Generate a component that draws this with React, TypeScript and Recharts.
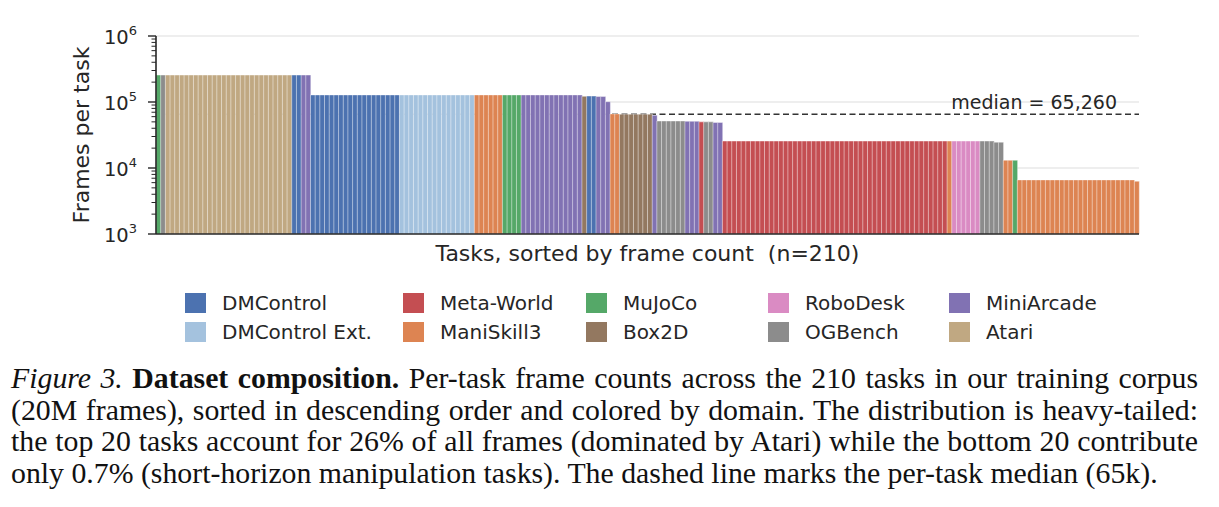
import { BarChart, Bar, Cell, XAxis, YAxis, ReferenceLine } from 'recharts'

// domains, in legend order (column-major, two rows)
const domains = [
  'DMControl', 'DMControl Ext.', 'Meta-World', 'ManiSkill3', 'MuJoCo',
  'Box2D', 'RoboDesk', 'OGBench', 'MiniArcade', 'Atari',
]
const domainColors = [
  '#4c72b0', '#a4c2de', '#c44e52', '#dd8452', '#55a868',
  '#937860', '#da8bc3', '#8c8c8c', '#8172b3', '#c0a882',
]

// tasks sorted by frame count, stored as runs of neighbouring tasks
// that share a domain and a frame count
const runDomains = [
  'MuJoCo', 'OGBench', 'Atari', 'DMControl', 'MiniArcade',
  'DMControl', 'DMControl Ext.', 'ManiSkill3', 'MuJoCo', 'MiniArcade',
  'Box2D', 'DMControl', 'MiniArcade', 'MiniArcade', 'ManiSkill3',
  'Box2D', 'MiniArcade', 'OGBench', 'MiniArcade', 'Meta-World',
  'OGBench', 'MiniArcade', 'Meta-World', 'ManiSkill3', 'RoboDesk',
  'OGBench', 'OGBench', 'ManiSkill3', 'MuJoCo', 'ManiSkill3', 'ManiSkill3',
]
const runCounts = [
  1, 1, 27, 2, 2,
  19, 16, 6, 4, 13,
  1, 2, 2, 1, 2,
  7, 1, 6, 3, 1,
  2, 2, 48, 1, 6,
  3, 2, 2, 1, 25, 1,
]
const runFrames = [
  256000, 256000, 256000, 256000, 256000,
  128000, 128000, 128000, 128000, 128000,
  122000, 123000, 121000, 101000, 66000,
  65260, 63000, 51500, 51000, 50000,
  50000, 49000, 25600, 25600, 25600,
  25600, 24600, 13100, 13100, 6600, 6300,
]

const MEDIAN = 65260
const majorTicks = [1e3, 1e4, 1e5, 1e6]
const minorTicks = [2, 3, 4, 5, 6, 7, 8, 9].flatMap((m) => [m * 1e3, m * 1e4, m * 1e5])
const gridValues = [1e4, 1e5, 1e6]

const tasks = runDomains.flatMap((d, i) =>
  Array.from({ length: runCounts[i] }, () => ({ domain: d, frames: runFrames[i] })),
).map((t, i) => ({ ...t, idx: i + 1 }))

const INK = '#262626'
const SANS = '"DejaVu Sans", sans-serif'

function LogTick(props: any) {
  const { x, y, payload } = props
  const exp = Math.log10(payload.value)
  const major = Math.abs(exp - Math.round(exp)) < 1e-9
  if (!major) {
    return <line x1={x - 4.5} x2={x} y1={y} y2={y} stroke={INK} strokeWidth={1} />
  }
  return (
    <g>
      <line x1={x - 8} x2={x} y1={y} y2={y} stroke={INK} strokeWidth={1.4} />
      <text x={x - 19} y={y + 8} textAnchor="end" fontSize={19.5} fill={INK} fontFamily={SANS}>
        <tspan>10</tspan>
        <tspan dy={-9} fontSize={13}>{Math.round(exp)}</tspan>
      </text>
    </g>
  )
}

function YTitle(props: any) {
  const { viewBox } = props
  const cx = 81
  const cy = viewBox.y + viewBox.height / 2
  return (
    <text x={cx} y={cy} transform={`rotate(-90 ${cx} ${cy})`} textAnchor="middle"
      dominantBaseline="central" fontSize={22} fill={INK} fontFamily={SANS}>
      Frames per task
    </text>
  )
}

function XTitle(props: any) {
  const { viewBox } = props
  return (
    <text x={viewBox.x + viewBox.width / 2} y={viewBox.y + 19} textAnchor="middle"
      dominantBaseline="central" fontSize={22} fill={INK} fontFamily={SANS}
      style={{ whiteSpace: 'pre' }}>
      {'Tasks, sorted by frame count  (n=210)'}
    </text>
  )
}

function MedianLabel(props: any) {
  const { viewBox } = props
  return (
    <text x={viewBox.x + viewBox.width - 22} y={viewBox.y - 12} textAnchor="end"
      dominantBaseline="central" fontSize={19} fill={INK} fontFamily={SANS}>
      {`median = ${MEDIAN.toLocaleString('en-US')}`}
    </text>
  )
}

const legendCols = [185, 403, 586, 768, 949]
const legendRows = [303, 332]

export default function App() {
  return (
    <div style={{ position: 'absolute', left: 0, top: 0, width: 1219, height: 507, background: '#fff' }}>
      <BarChart width={1219} height={272} data={tasks}
        margin={{ top: 36, right: 80, bottom: 0, left: 0 }}
        barCategoryGap={0} barGap={0}>
        <XAxis dataKey="idx" tick={false} tickLine={false} height={38}
          axisLine={{ stroke: INK, strokeWidth: 1.6 }} label={<XTitle />} />
        <YAxis scale="log" domain={[1e3, 1e6]} allowDataOverflow
          ticks={[...majorTicks, ...minorTicks]} interval={0}
          tickSize={0} tickMargin={0} tickLine={false} width={156}
          axisLine={{ stroke: INK, strokeWidth: 1.6 }}
          tick={<LogTick />} label={<YTitle />} />
        {gridValues.map((v) => (
          <ReferenceLine key={v} y={v} stroke="#dedede" strokeWidth={1.2} zIndex={-10} />
        ))}
        <ReferenceLine y={MEDIAN} stroke="#333" strokeWidth={1.5} strokeDasharray="6 3.5"
          zIndex={-5} label={<MedianLabel />} />
        <Bar dataKey="frames" isAnimationActive={false} stroke="#fff" strokeWidth={0.5} strokeOpacity={0.8}>
          {tasks.map((t) => (
            <Cell key={t.idx} fill={domainColors[domains.indexOf(t.domain)]} />
          ))}
        </Bar>
      </BarChart>

      {domains.map((d, i) => {
        const left = legendCols[Math.floor(i / 2)]
        const cy = legendRows[i % 2]
        return (
          <div key={d} style={{ position: 'absolute', left, top: cy - 10, height: 20, display: 'flex', alignItems: 'center' }}>
            <div style={{ width: 21, height: 20, background: domainColors[i] }} />
            <span style={{ marginLeft: 16, fontFamily: SANS, fontSize: 20, color: INK, lineHeight: '20px', whiteSpace: 'nowrap' }}>{d}</span>
          </div>
        )
      })}

      <div style={{
        position: 'absolute', left: 11, top: 362, width: 1187,
        fontFamily: '"Liberation Serif", "Times New Roman", serif', fontSize: 29.8,
        lineHeight: '31.7px', color: '#111',
      }}>
        <div style={{ textAlign: 'justify', textAlignLast: 'justify', whiteSpace: 'nowrap' }}>
          <i>Figure 3.</i> <b>Dataset composition.</b> Per-task frame counts across the 210 tasks in our training corpus
        </div>
        <div style={{ textAlign: 'justify', textAlignLast: 'justify' }}>
          (20M frames), sorted in descending order and colored by domain. The distribution is heavy-tailed:
        </div>
        <div style={{ textAlign: 'justify', textAlignLast: 'justify' }}>
          the top 20 tasks account for 26% of all frames (dominated by Atari) while the bottom 20 contribute
        </div>
        <div>
          only 0.7% (short-horizon manipulation tasks). The dashed line marks the per-task median (65k).
        </div>
      </div>
    </div>
  )
}
